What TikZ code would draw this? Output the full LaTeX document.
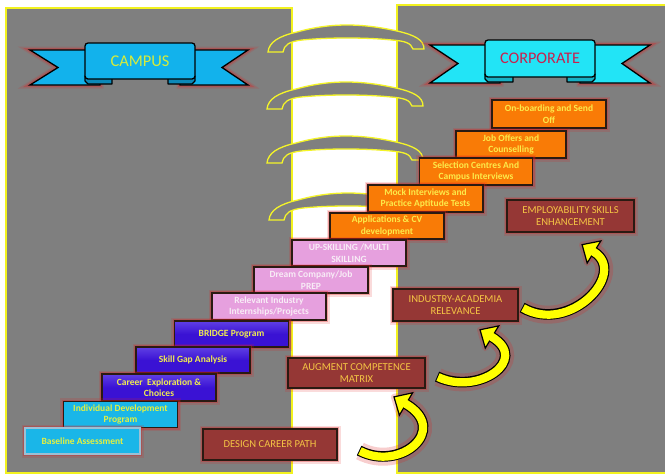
\documentclass[tikz,border=0pt]{standalone}
\usepackage{fontspec}
\setmainfont{Carlito}
\usetikzlibrary{calc}
\definecolor{panelgray}{HTML}{7F7F7F}
\definecolor{panelline}{HTML}{F2F21E}
\definecolor{ringyellow}{HTML}{F4F428}
\definecolor{campusblue}{HTML}{12B2EC}
\definecolor{campusdark}{HTML}{0C88B8}
\definecolor{corpcyan}{HTML}{22E4F6}
\definecolor{corpdark}{HTML}{16B0C4}
\definecolor{campustext}{HTML}{D6EC3A}
\definecolor{corptext}{HTML}{C8204E}
\definecolor{orangefill}{HTML}{F97B06}
\definecolor{orangetext}{HTML}{FCEB4A}
\definecolor{pinkfill}{HTML}{E6A0DE}
\definecolor{pinktext}{HTML}{F8ECF6}
\definecolor{bluefill}{HTML}{3A12D4}
\definecolor{bluetop}{HTML}{6040E4}
\definecolor{bluetext}{HTML}{F0EC50}
\definecolor{cyanfill}{HTML}{1AB6E8}
\definecolor{cyanedge}{HTML}{9CC0D4}
\definecolor{cyantext}{HTML}{E4F040}
\definecolor{brownfill}{HTML}{953735}
\definecolor{browntext}{HTML}{F4C444}
\definecolor{boxline}{HTML}{2A1A12}
\definecolor{glowred}{HTML}{E02020}
\definecolor{arrowyellow}{HTML}{FFFF00}
\newcommand\stepfont{\fontsize{9.5}{11.6}\selectfont\bfseries}
\newcommand\capsfont{\fontsize{10.6}{12.6}\selectfont}
\newcommand\yellowbend[4]{%
  \coordinate (tipP) at ($(#4)!-14pt!(#3)$);
  \coordinate (hdl) at ($(#4)!13pt!90:(#3)$);
  \coordinate (hdr) at ($(#4)!13pt!-90:(#3)$);
  \draw[glowred, opacity=0.22, line width=18pt] (#1) .. controls (#2) and (#3) .. (#4);
  \filldraw[glowred, opacity=0.22, line width=6pt, line join=round] (tipP) -- (hdl) -- (hdr) -- cycle;
  \draw[black, line width=10.6pt, shorten <=-1pt] (#1) .. controls (#2) and (#3) .. (#4);
  \filldraw[fill=arrowyellow, draw=black, line width=1.2pt] (tipP) -- (hdl) -- (hdr) -- cycle;
  \draw[arrowyellow, line width=8.2pt] (#1) .. controls (#2) and (#3) .. (#4) -- ($(#4)!-1.5pt!(#3)$);
}
\begin{document}
\begin{tikzpicture}[x=1pt,y=-1pt,
  redglow/.style={preaction={draw=glowred,line width=7pt,opacity=0.16},
                  preaction={draw=glowred,line width=4pt,opacity=0.32}},
  panel/.style={fill=panelgray, draw=panelline, line width=1.5pt},
  binderring/.pic={
    \filldraw[fill=panelgray, draw=ringyellow, line width=1.3pt]
      (-79,27) .. controls (-78,17) and (-68,11) .. (-50,7)
      .. controls (-32,2) and (-16,0) .. (0,0)
      .. controls (16,0) and (32,2) .. (50,6)
      .. controls (68,10) and (77,15) .. (77,24) -- (66,24)
      .. controls (64,18) and (58,16) .. (45,15)
      .. controls (30,13.5) and (15,13) .. (0,13)
      .. controls (-15,13) and (-30,13.5) .. (-45,15)
      .. controls (-58,16.5) and (-63,20) .. (-64,27) -- cycle;
  },
  ribbonpart/.style={draw=black, line width=1.3pt, line join=miter, redglow},
  foldpart/.style={draw=black, line width=1.1pt, line join=round},
  stepbox/.style={rectangle, draw=boxline, line width=1.2pt, minimum width=114pt,
    minimum height=26.5pt, inner sep=0pt, align=center, font=\stepfont, redglow},
  orangebox/.style={stepbox, fill=orangefill, text=orangetext},
  pinkbox/.style={stepbox, fill=pinkfill, text=pinktext},
  bluebox/.style={stepbox, top color=bluetop, bottom color=bluefill, middle color=bluefill, text=bluetext},
  cyanbox/.style={stepbox, fill=cyanfill, text=cyantext},
  brownbox/.style={rectangle, draw=boxline, line width=1.2pt, fill=brownfill, text=browntext,
    align=center, font=\capsfont, inner sep=0pt, redglow}
]
\useasboundingbox (0,0) rectangle (665,475);
\fill[white] (0,0) rectangle (665,475);
% panels
\draw[panel] (6,8) rectangle (292,473);
\draw[panel] (397,5) rectangle (670,473);
% binder rings
\pic at (347,25) {binderring};
\pic at (346,82) {binderring};
\pic at (346,136) {binderring};
\pic at (348,193) {binderring};
% CAMPUS ribbon
\filldraw[ribbonpart, fill=campusblue] (30,50) -- (100,50) -- (100,85) -- (30,85) -- (58,67.5) -- cycle;
\filldraw[ribbonpart, fill=campusblue] (248,50) -- (180,50) -- (180,85) -- (248,85) -- (222,67.5) -- cycle;
\filldraw[foldpart, fill=campusdark] (112,76) -- (112,84) -- (88,84) -- (85,81) -- (85,76) -- cycle;
\filldraw[foldpart, fill=campusdark] (168,76) -- (168,84) -- (192,84) -- (195,81) -- (195,76) -- cycle;
\node[draw=black, line width=1.3pt, rounded corners=3pt, fill=campusblue, minimum width=110pt,
  minimum height=36pt, text=campustext, font=\fontsize{16.4}{19}\selectfont] (campus) at (140,61) {CAMPUS};
% CORPORATE ribbon
\filldraw[ribbonpart, fill=corpcyan] (430,45) -- (500,45) -- (500,83) -- (430,83) -- (458,63.5) -- cycle;
\filldraw[ribbonpart, fill=corpcyan] (650,45) -- (580,45) -- (580,83) -- (650,83) -- (622,63.5) -- cycle;
\filldraw[foldpart, fill=corpdark] (513,74) -- (513,82) -- (488,82) -- (485,79) -- (485,74) -- cycle;
\filldraw[foldpart, fill=corpdark] (567,74) -- (567,82) -- (592,82) -- (595,79) -- (595,74) -- cycle;
\node[draw=black, line width=1.3pt, rounded corners=3pt, fill=corpcyan, minimum width=110pt,
  minimum height=37pt, text=corptext, font=\fontsize{16.2}{19}\selectfont] (corporate) at (540,58.5) {CORPORATE};
% staircase
\node[orangebox, minimum width=114pt, minimum height=28pt] (o1) at (549,114) {On-boarding and Send\\Off};
\node[orangebox, minimum width=110pt, minimum height=27pt] (o2) at (511,144.5) {Job Offers and\\Counselling};
\node[orangebox, minimum width=113pt, minimum height=27pt] (o3) at (476,171.5) {Selection Centres And\\Campus Interviews};
\node[orangebox, minimum width=115pt, minimum height=27pt] (o4) at (425.5,198.5) {Mock Interviews and\\Practice Aptitude Tests};
\node[orangebox, minimum height=26pt] (o5) at (387,226) {Applications \& CV\\development};
\node[pinkbox, minimum height=26pt] (p1) at (349,253) {UP-SKILLING /MULTI\\SKILLING};
\node[pinkbox, minimum height=26pt] (p2) at (311,280) {Dream Company/Job\\PREP};
\node[pinkbox, minimum height=27pt] (p3) at (269,306.5) {Relevant Industry\\Internships/Projects};
\node[bluebox, minimum height=26pt] (b1) at (231.5,334) {BRIDGE Program};
\node[bluebox, minimum height=26pt] (b2) at (193,360) {Skill Gap Analysis};
\node[bluebox, minimum height=27pt] (b3) at (159,387.5) {Career\ \ Exploration \&\\Choices};
\node[cyanbox, minimum height=26pt] (c1) at (120.5,414.5) {Individual Development\\Program};
\node[cyanbox, draw=cyanedge, minimum width=115pt, minimum height=26pt] (c2) at (82.5,441) {Baseline Assessment};
% brown boxes
\node[brownbox, minimum width=127pt, minimum height=32pt] (r1) at (570.5,216) {EMPLOYABILITY SKILLS\\ENHANCEMENT};
\node[brownbox, minimum width=125pt, minimum height=32pt] (r2) at (455.5,305) {INDUSTRY-ACADEMIA\\RELEVANCE};
\node[brownbox, minimum width=137pt, minimum height=30pt] (r3) at (356.5,373) {AUGMENT COMPETENCE\\MATRIX};
\node[brownbox, minimum width=134pt, minimum height=31pt] (r4) at (270,444.5) {DESIGN CAREER PATH};
% curved arrows
\coordinate (a1t) at (360,451); \coordinate (a1a) at (400,472); \coordinate (a1b) at (450,430); \coordinate (a1h) at (406,404);
\coordinate (a2t) at (438,377); \coordinate (a2a) at (478,396); \coordinate (a2b) at (530,360); \coordinate (a2h) at (492,337);
\coordinate (a3t) at (523,308); \coordinate (a3a) at (570,335); \coordinate (a3b) at (628,273); \coordinate (a3h) at (594,252);
\yellowbend{a1t}{a1a}{a1b}{a1h}
\yellowbend{a2t}{a2a}{a2b}{a2h}
\yellowbend{a3t}{a3a}{a3b}{a3h}
\end{tikzpicture}
\end{document}
